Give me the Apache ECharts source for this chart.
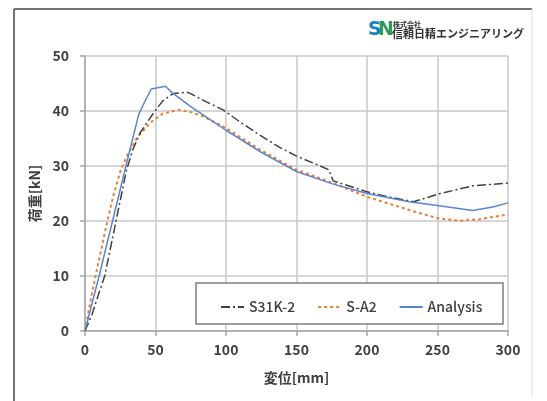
<!DOCTYPE html>
<html>
<head>
<meta charset="utf-8">
<script src="https://cdn.jsdelivr.net/npm/echarts@6/dist/echarts.min.js"></script>
<style>
  html, body { margin: 0; padding: 0; background: #fff; }
  #chart { width: 547px; height: 401px; }
</style>
</head>
<body>
<div id="chart"></div>
<script>
// 系列名
const seriesNames = ['S31K-2', 'S-A2', 'Analysis'];

// 変位[mm], 荷重[kN]
const s31k2 = [
  [0, 0], [5, 3], [10, 7], [14, 10], [18, 15], [22, 20], [26, 25], [29.5, 29.3],
  [34, 33], [39, 36], [48.5, 39.6], [55, 41.8], [62.6, 43.2], [73, 43.4],
  [85, 41.8], [98, 40.2], [110, 38], [124, 35.6], [138, 33.4], [150, 31.8],
  [165, 30.2], [173, 29.3], [176, 27.3], [200, 25.3], [215, 24.4], [233, 23.5],
  [252, 25], [275, 26.4], [300, 26.9]
];
const sA2 = [
  [0, 0], [5, 7], [10, 13], [15, 19], [20, 24.5], [25, 29], [30, 32], [36.6, 35],
  [46, 37.8], [55, 39.5], [66, 40.2], [75, 39.8], [84, 39], [100, 36.9],
  [124, 33], [150, 29.3], [175, 27], [200, 24.4], [230, 22], [250, 20.5],
  [265, 20.05], [280, 20.3], [300, 21.2]
];
const analysis = [
  [0, 0], [10, 10], [20, 20.5], [30, 31], [38, 39.3], [42, 41.5], [47, 44],
  [57, 44.5], [62, 43.3], [75, 40.8], [89, 38.4], [100, 36.5], [125, 32.5],
  [150, 29], [175, 26.8], [200, 25], [230, 23.5], [250, 22.8], [275, 21.9],
  [290, 22.6], [300, 23.3]
];

const font = '"Noto Sans CJK JP", "Noto Sans", sans-serif';
const textColor = '#404040';

const chart = echarts.init(document.getElementById('chart'), null, { renderer: 'canvas' });

chart.setOption({
  backgroundColor: '#fff',
  animation: false,
  grid: { left: 85, right: 39, top: 56, bottom: 70 },
  xAxis: {
    type: 'value',
    min: 0, max: 300, interval: 50,
    name: '変位[mm]',
    nameLocation: 'middle',
    nameGap: 40,
    nameTextStyle: { fontFamily: font, fontSize: 14, fontWeight: 'bold', color: textColor },
    axisLine: { lineStyle: { color: '#a6a6a6', width: 1.5 } },
    axisTick: { show: true, length: 5, lineStyle: { color: '#a6a6a6', width: 1.5 } },
    axisLabel: { margin: 12, fontFamily: font, fontSize: 14, fontWeight: 'bold', color: textColor },
    splitLine: { show: true, lineStyle: { color: '#c8c8c8', width: 1.5 } }
  },
  yAxis: {
    type: 'value',
    min: 0, max: 50, interval: 10,
    name: '荷重[kN]',
    nameLocation: 'middle',
    nameGap: 42,
    nameRotate: 90,
    nameTextStyle: { fontFamily: font, fontSize: 14, fontWeight: 'bold', color: textColor },
    axisLine: { show: true, lineStyle: { color: '#a6a6a6', width: 1.5 } },
    axisTick: { show: true, length: 5, lineStyle: { color: '#a6a6a6', width: 1.5 } },
    axisLabel: { margin: 16, fontFamily: font, fontSize: 14, fontWeight: 'bold', color: textColor },
    splitLine: { show: true, lineStyle: { color: '#c8c8c8', width: 1.5 } }
  },
  legend: {
    data: seriesNames,
    left: 215,
    top: 295,
    z: 60,
    itemWidth: 23,
    itemHeight: 12,
    itemGap: 22,
    itemStyle: { opacity: 0 },
    textStyle: { fontFamily: font, fontSize: 14, fontWeight: 500, color: textColor }
  },
  graphic: [
    // 枠線
    { type: 'line', z: 1, shape: { x1: 14, y1: 9, x2: 14, y2: 401 }, style: { stroke: '#444', lineWidth: 1.5 } },
    { type: 'line', z: 1, shape: { x1: 14, y1: 9, x2: 532, y2: 9 }, style: { stroke: '#444', lineWidth: 1.5 } },
    { type: 'line', z: 1, shape: { x1: 532, y1: 9, x2: 532, y2: 396 }, style: { stroke: '#dcdcdc', lineWidth: 1 } },
    // 凡例の枠
    { type: 'rect', z: 50, shape: { x: 196, y: 283, width: 307, height: 41 }, style: { fill: '#fff', stroke: '#7f7f7f', lineWidth: 1.5 } },
    // ロゴ
    { type: 'text', z: 5, left: 368, top: 21, style: { text: 'S', font: 'bold 19px "DejaVu Sans"', fill: '#1c7fc0' } },
    { type: 'text', z: 5, left: 378, top: 21, style: { text: 'N', font: 'bold 19px "DejaVu Sans"', fill: '#2e9b58' } },
    { type: 'text', z: 5, left: 393, top: 21, style: { text: '株式会社', font: 'bold 7px "Noto Sans CJK JP"', fill: '#333' } },
    { type: 'text', z: 5, left: 392, top: 28, style: { text: '信頼日精エンジニアリング', font: 'bold 11px "Noto Sans CJK JP"', fill: '#333' } }
  ],
  series: [
    {
      name: 'S31K-2', type: 'line', data: s31k2, symbol: 'none', z: 3,
      lineStyle: { color: '#404040', width: 1.5, type: [9, 3, 2, 3] },
      itemStyle: { color: '#404040' }
    },
    {
      name: 'S-A2', type: 'line', data: sA2, symbol: 'none', z: 2,
      lineStyle: { color: '#ed7d31', width: 2, type: [3, 3] },
      itemStyle: { color: '#ed7d31' }
    },
    {
      name: 'Analysis', type: 'line', data: analysis, symbol: 'none', z: 4,
      lineStyle: { color: '#5b84d2', width: 1.5 },
      itemStyle: { color: '#5b84d2' }
    }
  ]
});
</script>
</body>
</html>
